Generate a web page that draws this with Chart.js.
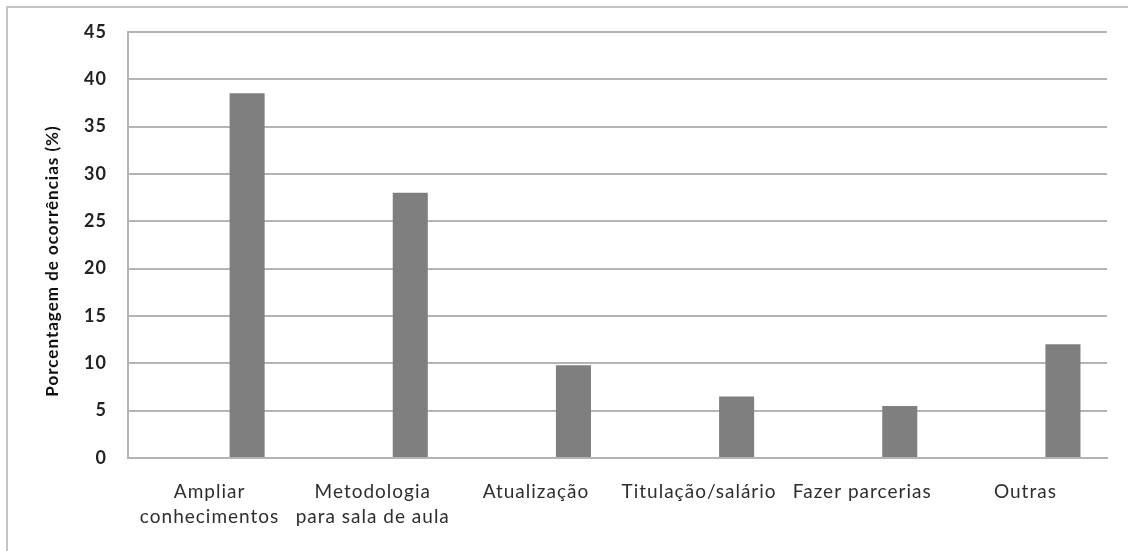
<!DOCTYPE html>
<html>
<head>
<meta charset="utf-8">
<script src="https://cdn.jsdelivr.net/npm/chart.js@4/dist/chart.umd.min.js"></script>
<style>
  html, body { margin: 0; padding: 0; background: #fff; }
  #wrap { position: absolute; left: 0; top: 0; width: 1128px; height: 551px; overflow: hidden; }
  #frame { position: absolute; left: 6px; top: 6px; right: -4px; bottom: -4px;
           border-top: 2px solid #c4c4c4; border-left: 2px solid #c4c4c4; }
  #c { position: absolute; left: 0; top: 0; }
</style>
</head>
<body>
<div id="wrap">
  <div id="frame"></div>
  <canvas id="c" width="1128" height="551"></canvas>
</div>
<script>
// Motivos citados (categorias do eixo X)
const categories = [
  ['Ampliar', 'conhecimentos'],
  ['Metodologia', 'para sala de aula'],
  'Atualização',
  'Titulação/salário',
  'Fazer parcerias',
  'Outras'
];

// Série vazia que ocupa a primeira posição de cada grupo
const emptySeries = [null, null, null, null, null, null];

// Porcentagem de ocorrências (%)
const occurrencePct = [38.5, 28, 9.8, 6.5, 5.5, 12];

// Eixo Y
const yMin = 0;
const yMax = 45;
const yStep = 5;
const yTitle = 'Porcentagem de ocorrências (%)';

const labelFont = 'Lato, "Open Sans", sans-serif';

// Título do eixo Y desenhado na lateral
const yTitlePlugin = {
  id: 'yTitlePlugin',
  afterDraw(chart) {
    const ctx = chart.ctx;
    ctx.save();
    ctx.translate(53, 261);
    ctx.rotate(-Math.PI / 2);
    ctx.font = 'bold 17px ' + labelFont;
    ctx.fillStyle = '#111';
    ctx.textAlign = 'center';
    ctx.textBaseline = 'middle';
    ctx.fillText(yTitle, 0, 0);
    ctx.restore();
  }
};

// Espaçamento entre letras, como no texto original
const spacingPlugin = {
  id: 'spacingPlugin',
  beforeLayout(chart) { chart.ctx.letterSpacing = '1px'; },
  beforeDraw(chart) { chart.ctx.letterSpacing = '1px'; }
};

new Chart(document.getElementById('c'), {
  type: 'bar',
  data: {
    labels: categories,
    datasets: [
      { label: '', data: emptySeries, backgroundColor: '#7f7f7f' },
      { label: 'Porcentagem', data: occurrencePct, backgroundColor: '#7f7f7f', borderWidth: 0 }
    ]
  },
  options: {
    responsive: false,
    animation: false,
    devicePixelRatio: 1,
    categoryPercentage: 0.92,
    barPercentage: 0.467,
    layout: { padding: { left: 0, right: 21, top: 31, bottom: 0 } },
    plugins: {
      legend: { display: false },
      tooltip: { enabled: false },
      title: { display: false }
    },
    scales: {
      x: {
        grid: { display: false, drawTicks: false },
        border: { display: true, color: '#b4b4b4', width: 2 },
        ticks: {
          padding: 21,
          maxRotation: 0,
          autoSkip: false,
          color: '#2e2e2e',
          font: { family: labelFont, size: 19, lineHeight: 1.33 }
        },
        afterFit(scale) { scale.height = 93; }
      },
      y: {
        min: yMin,
        max: yMax,
        grid: { color: '#b4b4b4', lineWidth: 2, drawTicks: false },
        border: { display: true, color: '#b4b4b4', width: 2 },
        ticks: {
          stepSize: yStep,
          padding: 21,
          color: '#222',
          font: { family: labelFont, size: 18, weight: 'bold' }
        },
        afterFit(scale) { scale.width = 128; }
      }
    }
  },
  plugins: [spacingPlugin, yTitlePlugin]
});
</script>
</body>
</html>
